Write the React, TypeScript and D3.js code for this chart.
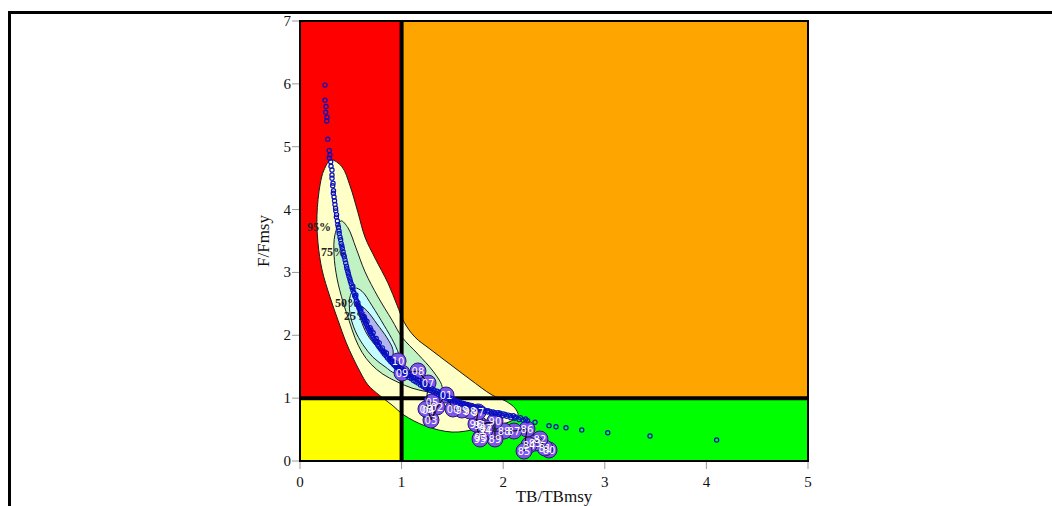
import React from "react";
import * as d3 from "d3";

// ---- data -----------------------------------------------------------------
const xTicks = [0, 1, 2, 3, 4, 5];
const yTicks = [0, 1, 2, 3, 4, 5, 6, 7];

// Stock trajectory (TB/TBmsy, F/Fmsy) by year
const years = ["80","81","82","83","84","85","86","87","88","89","90","91","92","93","94","95","96","97","98","99","00","01","02","03","04","05","06","07","08","09","10"];
const bRatio = [2.451,2.411,2.362,2.313,2.254,2.205,2.234,2.106,2.008,1.919,1.919,1.772,1.831,1.781,1.821,1.772,1.732,1.752,1.673,1.594,1.506,1.437,1.348,1.289,1.26,1.299,1.24,1.26,1.161,1.004,0.965];
const fRatio = [0.175,0.207,0.35,0.286,0.255,0.159,0.509,0.477,0.477,0.35,0.636,0.573,0.525,0.382,0.493,0.35,0.589,0.78,0.795,0.811,0.827,1.05,0.859,0.652,0.811,0.939,0.827,1.241,1.432,1.4,1.591];

// Posterior draws for the terminal year
const sparseDraws: [number, number][] = [
  [0.246,5.98],[0.246,5.74],[0.256,5.64],[0.253,5.55],[0.266,5.47],[0.263,5.41],[0.273,5.12],
  [0.288,4.94],[0.295,4.87],[0.288,4.82],[0.302,4.76],[0.305,4.69],[0.315,4.63],[0.315,4.55],
  [2.313,0.616],[2.451,0.562],[2.52,0.546],[2.618,0.53],[2.773,0.493],[3.029,0.45],[3.445,0.398],[4.101,0.334],
];
const denseDraws: [number, number][] = [
  [0.315,4.5],[0.325,4.42],[0.322,4.38],[0.33,4.3],[0.328,4.26],[0.335,4.2],[0.34,4.14],[0.344,4.08],
  [0.35,4.02],[0.352,3.98],[0.36,3.92],[0.358,3.88],[0.368,3.82],[0.372,3.76],[0.378,3.72],[0.384,3.66],
  [0.386,3.62],[0.394,3.56],[0.4,3.52],[0.405,3.46],[0.412,3.42],[0.416,3.38],[0.424,3.33],[0.43,3.28],
  [0.436,3.25],[0.443,3.2],[0.45,3.15],[0.458,3.1],[0.462,3.06],[0.47,3.02],[0.476,2.98],[0.482,2.94],
  [0.49,2.9],[0.496,2.86],[0.504,2.82],[0.512,2.76],[0.52,2.72],[0.53,2.68],[0.538,2.63],[0.548,2.6],
  [0.556,2.55],[0.562,2.5],[0.575,2.47],[0.584,2.43],[0.594,2.39],[0.602,2.36],[0.614,2.31],[0.622,2.28],
  [0.634,2.24],[0.645,2.2],[0.655,2.17],[0.664,2.13],[0.675,2.1],[0.686,2.06],[0.696,2.03],[0.708,2.0],
  [0.718,1.97],[0.73,1.94],[0.74,1.91],[0.752,1.88],[0.764,1.85],[0.776,1.82],[0.79,1.79],[0.804,1.76],
  [0.818,1.73],[0.832,1.7],[0.848,1.67],[0.862,1.64],[0.878,1.61],[0.894,1.58],[0.91,1.56],[0.926,1.53],
  [0.944,1.5],[0.96,1.48],[0.978,1.45],[0.996,1.43],[1.014,1.41],[1.034,1.38],[1.054,1.36],[1.074,1.33],
  [1.096,1.31],[1.118,1.28],[1.14,1.26],[1.162,1.24],[1.186,1.21],[1.21,1.19],[1.234,1.17],[1.258,1.14],
  [1.282,1.12],[1.308,1.1],[1.334,1.08],[1.36,1.06],[1.386,1.04],[1.412,1.02],[1.44,1.0],[1.468,0.98],
  [1.496,0.96],[1.524,0.94],[1.554,0.92],[1.584,0.91],[1.614,0.89],[1.646,0.87],[1.678,0.86],[1.71,0.84],
  [1.744,0.82],[1.778,0.81],[1.812,0.79],[1.848,0.78],[1.884,0.76],[1.92,0.75],[1.958,0.74],[1.996,0.72],
  [2.034,0.71],[2.074,0.69],[2.114,0.68],[2.156,0.66],[2.198,0.65],[2.24,0.64],
  [0.52,2.78],[0.55,2.64],[0.57,2.52],[0.6,2.42],[0.63,2.3],[0.66,2.22],[0.69,2.12],[0.72,2.04],
  [0.75,1.95],[0.78,1.88],[0.81,1.8],[0.85,1.72],[0.89,1.63],[0.93,1.57],[0.97,1.5],[1.02,1.45],
  [1.07,1.39],[1.12,1.33],[1.17,1.28],[1.22,1.23],[1.27,1.18],[1.32,1.13],[1.37,1.09],[1.42,1.05],
  [1.47,1.01],[1.52,0.97],[1.57,0.94],[1.62,0.91],[1.67,0.88],[1.72,0.86],[1.77,0.84],[1.82,0.81],
  [1.87,0.79],[1.92,0.77],[1.97,0.76],[2.02,0.74],[2.07,0.72],[2.12,0.7],[2.17,0.69],[2.22,0.67],
  [0.58,2.44],[0.64,2.25],[0.7,2.08],[0.76,1.9],[0.83,1.74],[0.9,1.61],[0.95,1.52],[1.0,1.47],
  [1.05,1.41],[1.1,1.35],[1.15,1.3],[1.2,1.25],[1.25,1.2],[1.3,1.15],[1.35,1.11],[1.4,1.07],
  [1.45,1.03],[1.5,0.99],[1.55,0.95],[1.6,0.92],[1.65,0.9],[1.7,0.87],[1.75,0.85],[1.8,0.83],
  [1.85,0.8],[1.9,0.78],[1.95,0.77],[2.0,0.75],[2.05,0.73],[2.1,0.72],
];

// Probability contours of the terminal-year posterior
const contour95: [number, number][] = [
  [0.305,4.79],[0.413,4.68],[0.492,4.38],[0.571,3.95],[0.64,3.56],[0.738,3.23],[0.866,2.83],[0.955,2.48],
  [1.024,2.21],[1.132,1.97],[1.28,1.78],[1.476,1.54],[1.673,1.3],[1.89,1.05],[2.028,0.95],[2.116,0.84],
  [2.146,0.73],[2.096,0.65],[1.949,0.57],[1.752,0.51],[1.496,0.46],[1.23,0.56],[1.024,0.73],[0.906,0.89],
  [0.778,1.05],[0.669,1.21],[0.591,1.42],[0.522,1.64],[0.453,1.89],[0.374,2.24],[0.295,2.61],[0.217,3.04],
  [0.177,3.47],[0.167,3.91],[0.197,4.39],[0.236,4.63],
];
const contour75: [number, number][] = [
  [0.404,3.82],[0.472,3.71],[0.551,3.39],[0.64,3.01],[0.768,2.61],[0.906,2.24],[1.004,1.97],[1.161,1.7],
  [1.309,1.43],[1.398,1.19],[1.388,1.08],[1.26,1.1],[1.102,1.16],[0.955,1.26],[0.817,1.38],[0.699,1.54],
  [0.61,1.73],[0.541,1.96],[0.482,2.24],[0.423,2.53],[0.364,2.91],[0.335,3.28],[0.344,3.6],
];
const contour50: [number, number][] = [
  [0.541,2.75],[0.61,2.7],[0.709,2.47],[0.827,2.16],[0.925,1.88],[0.984,1.64],[0.994,1.45],[0.935,1.4],
  [0.837,1.5],[0.719,1.65],[0.62,1.85],[0.541,2.08],[0.492,2.35],[0.492,2.61],
];
const contour25: [number, number][] = [
  [0.591,2.47],[0.659,2.39],[0.758,2.18],[0.856,1.96],[0.915,1.77],[0.906,1.65],[0.837,1.69],[0.748,1.83],
  [0.659,2.02],[0.6,2.24],[0.571,2.4],
];
const contourLabels = ["95%", "75%", "50%", "25%"];
const contourLabelPos: [number, number][] = [[0.187,3.72],[0.325,3.33],[0.463,2.51],[0.551,2.31]];

// ---- layout ---------------------------------------------------------------
const W = 1052;
const H = 506;
const PL = 300, PR = 808, PT = 21, PB = 461;
const serif = "'Liberation Serif', 'Times New Roman', serif";

export default function App() {
  const x = d3.scaleLinear().domain([0, 5]).range([PL, PR]);
  const y = d3.scaleLinear().domain([0, 7]).range([PB, PT]);

  const area = d3
    .line<[number, number]>()
    .x((d) => x(d[0]))
    .y((d) => y(d[1]))
    .curve(d3.curveCatmullRomClosed.alpha(0.5));

  const traj = d3
    .line<number>()
    .x((i) => x(bRatio[i]))
    .y((i) => y(fRatio[i]));

  const contours = [
    { pts: contour95, fill: "#ffffc8" },
    { pts: contour75, fill: "#c0f2c4" },
    { pts: contour50, fill: "#c4fcff" },
    { pts: contour25, fill: "#b4b4f0" },
  ];

  const draws = [...sparseDraws, ...denseDraws];

  return (
    <svg
      width={W}
      height={H}
      style={{ position: "absolute", left: 0, top: 0, display: "block" }}
    >
      <rect x={0} y={0} width={W} height={H} fill="#fff" />
      {/* outer frame */}
      <rect x={9.5} y={12.5} width={W + 20} height={H + 20} fill="none" stroke="#000" strokeWidth={3} />

      {/* stock status quadrants */}
      <rect x={x(0)} y={y(7)} width={x(1) - x(0)} height={y(1) - y(7)} fill="#ff0000" />
      <rect x={x(1)} y={y(7)} width={x(5) - x(1)} height={y(1) - y(7)} fill="#ffa500" />
      <rect x={x(0)} y={y(1)} width={x(1) - x(0)} height={y(0) - y(1)} fill="#ffff00" />
      <rect x={x(1)} y={y(1)} width={x(5) - x(1)} height={y(0) - y(1)} fill="#00ff00" />

      {/* probability contours */}
      {contours.map((c, i) => (
        <path key={i} d={area(c.pts) || ""} fill={c.fill} stroke="#1a1a1a" strokeWidth={1} />
      ))}

      {/* reference lines at Bmsy and Fmsy */}
      <line x1={x(1)} x2={x(1)} y1={y(7)} y2={y(0)} stroke="#000" strokeWidth={4} />
      <line x1={x(0)} x2={x(5)} y1={y(1)} y2={y(1)} stroke="#000" strokeWidth={4} />

      {/* plot frame */}
      <rect x={PL} y={PT} width={PR - PL} height={PB - PT} fill="none" stroke="#000" strokeWidth={2} />

      {/* axes */}
      {yTicks.map((t) => (
        <g key={"y" + t}>
          <line x1={PL - 8} x2={PL - 1} y1={y(t)} y2={y(t)} stroke="#999" strokeWidth={1} />
          <text x={PL - 9} y={y(t) + 5} textAnchor="end" fontFamily={serif} fontSize={15} fill="#111">
            {t}
          </text>
        </g>
      ))}
      {xTicks.map((t) => (
        <g key={"x" + t}>
          <line x1={x(t)} x2={x(t)} y1={PB + 1} y2={PB + 8} stroke="#999" strokeWidth={1} />
          <text x={x(t)} y={PB + 26} textAnchor="middle" fontFamily={serif} fontSize={15} fill="#111">
            {t}
          </text>
        </g>
      ))}
      <text
        transform={`translate(${269},${(PT + PB) / 2}) rotate(-90)`}
        textAnchor="middle"
        fontFamily={serif}
        fontSize={17}
        fill="#111"
      >
        F/Fmsy
      </text>
      <text x={(PL + PR) / 2} y={502} textAnchor="middle" fontFamily={serif} fontSize={17} fill="#111">
        TB/TBmsy
      </text>

      {/* contour labels */}
      {contourLabels.map((l, i) => (
        <text
          key={l}
          x={x(contourLabelPos[i][0])}
          y={y(contourLabelPos[i][1]) + 4}
          textAnchor="middle"
          fontFamily={serif}
          fontWeight="bold"
          fontSize={12}
          fill="#222"
        >
          {l}
        </text>
      ))}

      {/* yearly trajectory */}
      {years.map((yr, i) => (
        <circle key={"c" + yr} cx={x(bRatio[i])} cy={y(fRatio[i])} r={8} fill="#7d55ea" stroke="#2a1a70" strokeWidth={1} />
      ))}
      <path d={traj(d3.range(years.length)) || ""} fill="none" stroke="#000" strokeWidth={1} />

      {/* posterior draws */}
      {draws.map((d, i) => (
        <circle key={"p" + i} cx={x(d[0])} cy={y(d[1])} r={2.1} fill="none" stroke="#0a10c0" strokeWidth={1.2} />
      ))}

      {years.map((yr, i) => (
        <text
          key={"t" + yr}
          x={x(bRatio[i])}
          y={y(fRatio[i]) + 4}
          textAnchor="middle"
          fontFamily="'DejaVu Sans', sans-serif"
          fontSize={10}
          fill="#fff"
        >
          {yr}
        </text>
      ))}
    </svg>
  );
}
